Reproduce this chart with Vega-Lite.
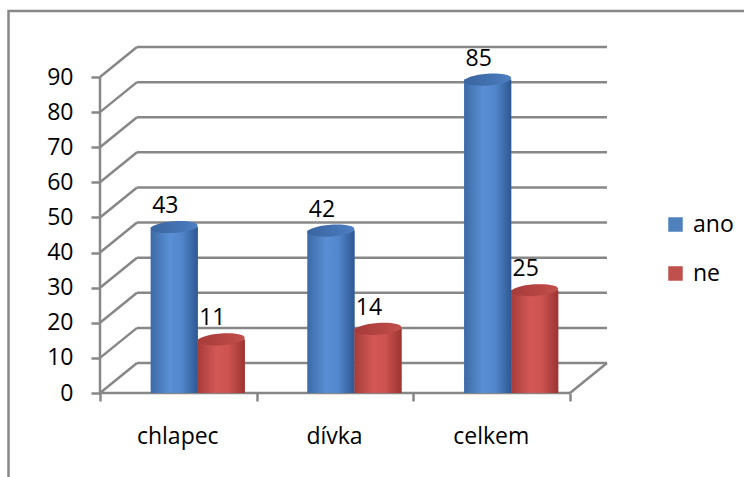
{
  "$schema": "https://vega.github.io/schema/vega-lite/v6.json",
  "width": 509,
  "height": 346,
  "autosize": {"type": "none"},
  "padding": {"left": 100, "top": 47, "right": 135, "bottom": 84},
  "background": "white",
  "config": {
    "view": {"stroke": null},
    "font": "Open Sans",
    "text": {"font": "Open Sans"},
    "axisY": {
      "labelOverlap": false,
      "domain": false,
      "grid": false,
      "tickSize": 9,
      "tickColor": "#878787",
      "tickWidth": 2.5,
      "labelFont": "Open Sans",
      "labelFontSize": 23,
      "labelColor": "#000000",
      "labelPadding": 18,
      "title": null
    },
    "legend": {
      "orient": "none",
      "legendX": 564,
      "legendY": 166,
      "padding": 0,
      "symbolType": "square",
      "symbolSize": 210,
      "symbolStrokeWidth": 0,
      "symbolOpacity": 1,
      "labelFont": "Open Sans",
      "labelFontSize": 23,
      "labelColor": "#000000",
      "labelOffset": 6,
      "rowPadding": 25
    }
  },
  "layer": [
    {
      "layer": [
        {
          "data": {"values": [{}]},
          "mark": {"type": "rect", "filled": false, "color": "#888888", "strokeWidth": 2.5},
          "encoding": {
            "x": {"datum": -0.584, "type": "quantitative", "scale": {"domain": [0, 3], "range": [0, 470], "nice": false}},
            "x2": {"datum": 5},
            "y": {"datum": 108.8, "type": "quantitative", "scale": {"domain": [0, 98.55], "nice": false},
                  "axis": {"values": [0, 10, 20, 30, 40, 50, 60, 70, 80, 90], "labelOverlap": false}},
            "y2": {"datum": -50}
          }
        },
        {
          "data": {"values": [{"v": 0}, {"v": 10}, {"v": 20}, {"v": 30}, {"v": 40}, {"v": 50}, {"v": 60}, {"v": 70}, {"v": 80}, {"v": 90}]},
          "mark": {"type": "rule", "color": "#878787", "strokeWidth": 2.5, "x2Offset": 37, "y2Offset": -30},
          "encoding": {
            "x": {"datum": 0, "type": "quantitative",
                  "scale": {"domain": [0, 3], "range": [0, 470], "nice": false},
                  "axis": {"orient": "bottom", "values": [0, 1, 2, 3], "labels": false, "domain": false, "grid": false,
                           "tickSize": 8, "tickColor": "#878787", "tickWidth": 2.5, "title": null}},
            "x2": {"datum": 0},
            "y": {"field": "v", "type": "quantitative",
                  "scale": {"domain": [0, 98.55], "nice": false},
                  "axis": {"values": [0, 10, 20, 30, 40, 50, 60, 70, 80, 90], "labelOverlap": false}},
            "y2": {"field": "v"}
          }
        },
        {
          "data": {"values": [{"v": 0}, {"v": 10}, {"v": 20}, {"v": 30}, {"v": 40}, {"v": 50}, {"v": 60}, {"v": 70}, {"v": 80}, {"v": 90}]},
          "mark": {"type": "rule", "color": "#878787", "strokeWidth": 2.5, "xOffset": 37, "x2Offset": 37, "yOffset": -30, "y2Offset": -30},
          "encoding": {
            "x": {"datum": 0, "type": "quantitative"},
            "x2": {"datum": 3},
            "y": {"field": "v", "type": "quantitative",
                  "axis": {"values": [0, 10, 20, 30, 40, 50, 60, 70, 80, 90], "labelOverlap": false}}
          }
        },
        {
          "data": {"values": [{}]},
          "mark": {"type": "rule", "color": "#878787", "strokeWidth": 2.5},
          "encoding": {
            "x": {"datum": 0, "type": "quantitative"},
            "x2": {"datum": 3},
            "y": {"datum": 0, "type": "quantitative",
                  "axis": {"values": [0, 10, 20, 30, 40, 50, 60, 70, 80, 90], "labelOverlap": false}}
          }
        },
        {
          "data": {"values": [{}]},
          "mark": {"type": "rule", "color": "#878787", "strokeWidth": 2.5, "x2Offset": 37, "y2Offset": -30},
          "encoding": {
            "x": {"datum": 3, "type": "quantitative"},
            "x2": {"datum": 3},
            "y": {"datum": 0, "type": "quantitative",
                  "axis": {"values": [0, 10, 20, 30, 40, 50, 60, 70, 80, 90], "labelOverlap": false}},
            "y2": {"datum": 0}
          }
        },
        {
          "data": {"values": [{}]},
          "mark": {"type": "rule", "color": "#878787", "strokeWidth": 2.5},
          "encoding": {
            "x": {"datum": 0, "type": "quantitative"},
            "y": {"datum": 0, "type": "quantitative",
                  "axis": {"values": [0, 10, 20, 30, 40, 50, 60, 70, 80, 90], "labelOverlap": false}},
            "y2": {"datum": 90}
          }
        }
      ]
    },
    {
      "data": {
        "values": [
          {"kategorie": "chlapec", "rada": "ano", "hodnota": 43},
          {"kategorie": "chlapec", "rada": "ne", "hodnota": 11},
          {"kategorie": "dívka", "rada": "ano", "hodnota": 42},
          {"kategorie": "dívka", "rada": "ne", "hodnota": 14},
          {"kategorie": "celkem", "rada": "ano", "hodnota": 85},
          {"kategorie": "celkem", "rada": "ne", "hodnota": 25}
        ]
      },
      "encoding": {
        "x": {"field": "kategorie", "type": "nominal", "sort": ["chlapec", "dívka", "celkem"],
              "scale": {"paddingInner": 0, "paddingOuter": 0.124},
              "axis": {"orient": "bottom", "title": null, "domain": false, "ticks": false, "grid": false, "labelAngle": 0,
                       "labelFont": "Open Sans", "labelFontSize": 23, "labelColor": "#000000",
                       "labelPadding": 32, "labelOffset": -20}},
        "xOffset": {"field": "rada", "type": "nominal", "sort": ["ano", "ne"],
                    "scale": {"paddingInner": 0, "paddingOuter": 0.667}},
        "y": {"field": "hodnota", "type": "quantitative", "stack": null,
              "scale": {"domain": [0, 98.55], "nice": false},
              "axis": {"values": [0, 10, 20, 30, 40, 50, 60, 70, 80, 90], "labelOverlap": false}}
      },
      "layer": [
        {
          "mark": {"type": "bar", "yOffset": -15, "y2Offset": -15},
          "encoding": {
            "color": {"field": "rada", "type": "nominal", "sort": ["ano", "ne"],
                      "scale": {"range": ["#4F81BD", "#C0504D"]},
                      "legend": {"title": null}}
          }
        },
        {
          "transform": [{"filter": "datum.rada === 'ano'"}],
          "mark": {"type": "point", "shape": "M-1,0A1,0.25,0,1,1,1,0A1,0.25,0,1,1,-1,0Z", "size": 2209,
                   "filled": true, "opacity": 1, "strokeWidth": 0, "yOffset": -15,
                   "fill": {"gradient": "linear", "x1": 0, "y1": 0, "x2": 1, "y2": 0,
                            "stops": [{"offset": 0, "color": "#3c6aa6"}, {"offset": 0.4, "color": "#5a8fd5"},
                                      {"offset": 0.65, "color": "#5387cd"}, {"offset": 1, "color": "#2e5892"}]}},
          "encoding": {"y": {"datum": 0, "type": "quantitative",
                             "axis": {"values": [0, 10, 20, 30, 40, 50, 60, 70, 80, 90], "labelOverlap": false}}}
        },
        {
          "transform": [{"filter": "datum.rada === 'ano'"}],
          "mark": {"type": "bar", "yOffset": -15, "y2Offset": -15,
                   "fill": {"gradient": "linear", "x1": 0, "y1": 0, "x2": 1, "y2": 0,
                            "stops": [{"offset": 0, "color": "#3c6aa6"}, {"offset": 0.4, "color": "#5a8fd5"},
                                      {"offset": 0.65, "color": "#5387cd"}, {"offset": 1, "color": "#2e5892"}]}}
        },
        {
          "transform": [{"filter": "datum.rada === 'ano'"}],
          "mark": {"type": "point", "shape": "M-1,0A1,0.25,0,1,1,1,0A1,0.25,0,1,1,-1,0Z", "size": 2209,
                   "filled": true, "opacity": 1, "strokeWidth": 0, "yOffset": -15, "angle": -4,
                   "fill": {"gradient": "linear", "x1": 0, "y1": 0, "x2": 1, "y2": 0,
                            "stops": [{"offset": 0, "color": "#3a66a0"}, {"offset": 0.6, "color": "#4473b3"},
                                      {"offset": 1, "color": "#4d7fc2"}]}}
        },
        {
          "transform": [{"filter": "datum.rada === 'ne'"}],
          "mark": {"type": "point", "shape": "M-1,0A1,0.25,0,1,1,1,0A1,0.25,0,1,1,-1,0Z", "size": 2209,
                   "filled": true, "opacity": 1, "strokeWidth": 0, "yOffset": -15,
                   "fill": {"gradient": "linear", "x1": 0, "y1": 0, "x2": 1, "y2": 0,
                            "stops": [{"offset": 0, "color": "#a73c3a"}, {"offset": 0.4, "color": "#d35855"},
                                      {"offset": 0.65, "color": "#cc5350"}, {"offset": 1, "color": "#9c3431"}]}},
          "encoding": {"y": {"datum": 0, "type": "quantitative",
                             "axis": {"values": [0, 10, 20, 30, 40, 50, 60, 70, 80, 90], "labelOverlap": false}}}
        },
        {
          "transform": [{"filter": "datum.rada === 'ne'"}],
          "mark": {"type": "bar", "yOffset": -15, "y2Offset": -15,
                   "fill": {"gradient": "linear", "x1": 0, "y1": 0, "x2": 1, "y2": 0,
                            "stops": [{"offset": 0, "color": "#a73c3a"}, {"offset": 0.4, "color": "#d35855"},
                                      {"offset": 0.65, "color": "#cc5350"}, {"offset": 1, "color": "#9c3431"}]}}
        },
        {
          "transform": [{"filter": "datum.rada === 'ne'"}],
          "mark": {"type": "point", "shape": "M-1,0A1,0.25,0,1,1,1,0A1,0.25,0,1,1,-1,0Z", "size": 2209,
                   "filled": true, "opacity": 1, "strokeWidth": 0, "yOffset": -15, "angle": -4,
                   "fill": {"gradient": "linear", "x1": 0, "y1": 0, "x2": 1, "y2": 0,
                            "stops": [{"offset": 0, "color": "#a53b39"}, {"offset": 0.6, "color": "#b74643"},
                                      {"offset": 1, "color": "#c24f4c"}]}}
        },
        {
          "mark": {"type": "text", "font": "Open Sans", "fontSize": 23, "color": "#000000",
                   "baseline": "middle", "dx": -9, "dy": -36},
          "encoding": {"text": {"field": "hodnota", "type": "quantitative"}}
        }
      ]
    }
  ],
  "resolve": {"scale": {"x": "independent"}, "axis": {"x": "independent"}}
}
